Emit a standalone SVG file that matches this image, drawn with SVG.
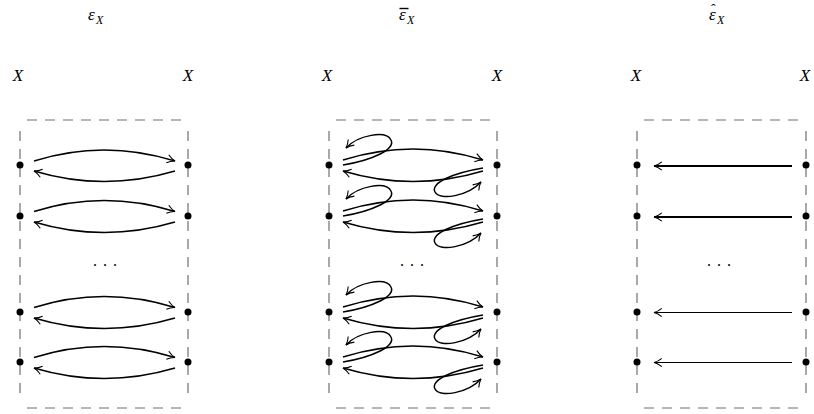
<svg xmlns="http://www.w3.org/2000/svg" width="814" height="414" viewBox="0 0 814 414">
<style>
.t{font-family:"Liberation Serif",serif;font-style:italic;fill:#000}
.box{stroke:#707070;stroke-width:1.2;stroke-dasharray:10 8;fill:none}
.e{fill:none;stroke:#000;stroke-width:1.5;marker-end:url(#arr)}
.dot{fill:#000}
.dots{font-family:"Liberation Serif",serif;font-size:16px;letter-spacing:6px;fill:#000}
</style>
<defs>
<marker id="arr" markerUnits="userSpaceOnUse" markerWidth="12" markerHeight="12" refX="0" refY="0" orient="auto" overflow="visible" viewBox="-7 -5 8 10">
<path d="M-6.5,-3.5 C-4.3,-1.7 -1.6,-0.4 0,0 C-1.6,0.4 -4.3,1.7 -6.5,3.5" fill="none" stroke="#000" stroke-width="0.9"/>
</marker>
</defs>

<g id="titles">
<text class="t" x="88" y="20" font-size="17">ε</text><text class="t" x="96" y="24" font-size="12">X</text>
<line x1="399.5" y1="8.5" x2="408.5" y2="8.5" stroke="#000" stroke-width="1.4"/>
<text class="t" x="399" y="20" font-size="17">ε</text><text class="t" x="407" y="24" font-size="12">X</text>
<text class="t" font-size="17"><tspan x="711" y="14" font-size="14" style="font-style:normal">ˆ</tspan><tspan x="709" y="20">ε</tspan></text><text class="t" x="717" y="24" font-size="12">X</text>
</g>

<g id="labels" text-anchor="middle">
<text class="t" x="18" y="81" font-size="17">X</text>
<text class="t" x="188" y="81" font-size="17">X</text>
<text class="t" x="327" y="81" font-size="17">X</text>
<text class="t" x="497" y="81" font-size="17">X</text>
<text class="t" x="636" y="81" font-size="17">X</text>
<text class="t" x="805" y="81" font-size="17">X</text>
</g>

<g id="panel-eps">
<line class="box" x1="27" y1="120" x2="182" y2="120"/>
<line class="box" x1="27" y1="408" x2="182" y2="408"/>
<line class="box" x1="20" y1="131" x2="20" y2="400"/>
<line class="box" x1="188" y1="131" x2="188" y2="400"/>
<g class="dot"><circle cx="20" cy="165" r="3.5"/><circle cx="188" cy="165" r="3.5"/><circle cx="20" cy="216" r="3.5"/><circle cx="188" cy="216" r="3.5"/><circle cx="20" cy="312" r="3.5"/><circle cx="188" cy="312" r="3.5"/><circle cx="20" cy="362" r="3.5"/><circle cx="188" cy="362" r="3.5"/></g>
<text class="dots" x="93" y="266">...</text>
</g>

<g id="panel-epsbar">
<line class="box" x1="336" y1="120" x2="491" y2="120"/>
<line class="box" x1="336" y1="408" x2="491" y2="408"/>
<line class="box" x1="329" y1="131" x2="329" y2="400"/>
<line class="box" x1="497" y1="131" x2="497" y2="400"/>
<g class="dot"><circle cx="329" cy="165" r="3.5"/><circle cx="497" cy="165" r="3.5"/><circle cx="329" cy="216" r="3.5"/><circle cx="497" cy="216" r="3.5"/><circle cx="329" cy="312" r="3.5"/><circle cx="497" cy="312" r="3.5"/><circle cx="329" cy="362" r="3.5"/><circle cx="497" cy="362" r="3.5"/></g>
<text class="dots" x="400" y="266">...</text>
</g>

<g id="panel-epshat">
<line class="box" x1="644" y1="120" x2="799" y2="120"/>
<line class="box" x1="644" y1="408" x2="799" y2="408"/>
<line class="box" x1="637" y1="131" x2="637" y2="400"/>
<line class="box" x1="806" y1="131" x2="806" y2="400"/>
<g class="dot"><circle cx="637" cy="165" r="3.5"/><circle cx="806" cy="165" r="3.5"/><circle cx="637" cy="216" r="3.5"/><circle cx="806" cy="216" r="3.5"/><circle cx="637" cy="312" r="3.5"/><circle cx="806" cy="312" r="3.5"/><circle cx="637" cy="362" r="3.5"/><circle cx="806" cy="362" r="3.5"/></g>
<text class="dots" x="707" y="266">...</text>
</g>

<g id="connectors">
<!-- left panel -->
<path class="e" d="M34,161 Q104,139 175,161"/>
<path class="e" d="M175,171 Q104,192 34,171"/>
<path class="e" d="M34,211.5 Q104,189.5 175,211.5"/>
<path class="e" d="M175,222 Q104,243 34,222"/>
<path class="e" d="M34,307.5 Q104,285.5 175,307.5"/>
<path class="e" d="M175,318 Q104,339 34,318"/>
<path class="e" d="M34,357.5 Q104,335.5 175,357.5"/>
<path class="e" d="M175,368 Q104,389 34,368"/>
<!-- middle panel -->
<path class="e" d="M343,160 Q413,138 483,160"/>
<path class="e" d="M483,171 Q413,192 343,171"/>
<path class="e" d="M343,165 C373,160 396,149 391,140 C386,130 358,135 346,148"/>
<path class="e" d="M483,168 C453,173 430,183 435,192 C440,201 468,196 481,182"/>

<path class="e" d="M343,211 Q413,189 483,211"/>
<path class="e" d="M483,222 Q413,243 343,222"/>
<path class="e" d="M343,216 C373,211 396,200 391,191 C386,181 358,186 346,199"/>
<path class="e" d="M483,219 C453,224 430,234 435,243 C440,252 468,247 481,233"/>

<path class="e" d="M343,307 Q413,285 483,307"/>
<path class="e" d="M483,318 Q413,339 343,318"/>
<path class="e" d="M343,312 C373,307 396,296 391,287 C386,277 358,282 346,295"/>
<path class="e" d="M483,315 C453,320 430,330 435,339 C440,348 468,343 481,329"/>

<path class="e" d="M343,357 Q413,335 483,357"/>
<path class="e" d="M483,368 Q413,389 343,368"/>
<path class="e" d="M343,362 C373,357 396,346 391,337 C386,327 358,332 346,345"/>
<path class="e" d="M483,365 C453,370 430,380 435,389 C440,398 468,393 481,379"/>
<!-- right panel -->
<path class="e" style="stroke-width:2" d="M792,166 L654,166"/>
<path class="e" style="stroke-width:2" d="M792,217 L654,217"/>
<path class="e" style="stroke-width:1.2" d="M792,312.5 L654,312.5"/>
<path class="e" style="stroke-width:1.2" d="M792,362.5 L654,362.5"/>
</g>
</svg>
